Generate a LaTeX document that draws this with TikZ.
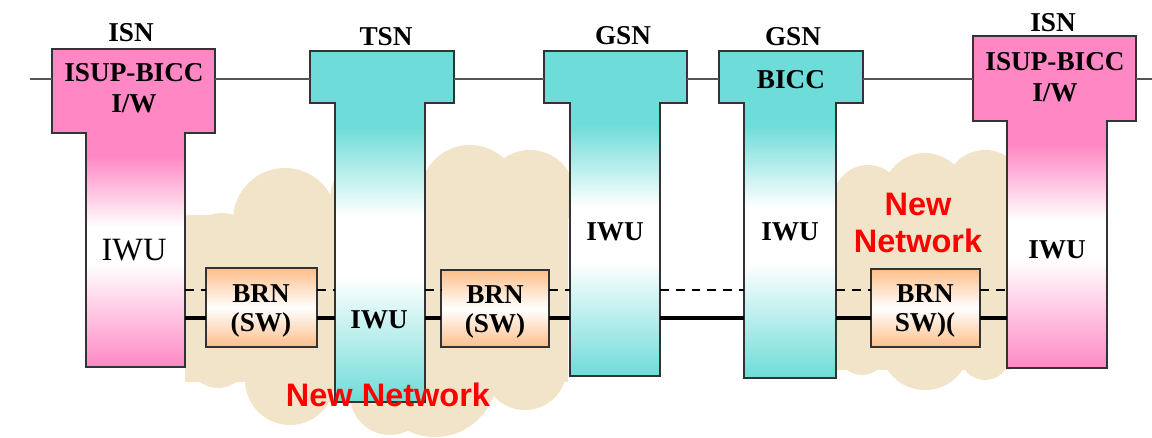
\documentclass[tikz,border=0pt]{standalone}
\usepackage{fontspec}
\setmainfont{Liberation Serif}
\setsansfont{Liberation Sans}
\usetikzlibrary{fit}

\definecolor{headpink}{HTML}{FF88C4}
\definecolor{headteal}{HTML}{6EDCD8}
\definecolor{cloudbeige}{HTML}{F2E4C8}
\definecolor{brnorange}{HTML}{FDBF8A}
\definecolor{netred}{HTML}{FF0000}
\definecolor{edgegray}{HTML}{333333}
\definecolor{linegray}{HTML}{555555}

% stem fills: strong at both ends, white in the middle
\pgfdeclareverticalshading{pinkfade}{100bp}{color(0bp)=(headpink); color(25bp)=(headpink); color(47bp)=(white); color(55bp)=(white); color(70bp)=(headpink); color(100bp)=(headpink)}
\pgfdeclareverticalshading{tealfade}{100bp}{color(0bp)=(headteal); color(25bp)=(headteal); color(46bp)=(white); color(56bp)=(white); color(71bp)=(headteal); color(100bp)=(headteal)}

\newcommand{\boxfont}{\fontsize{15.5}{18}\selectfont\bfseries}
\newcommand{\brnfont}{\fontsize{15.5}{16.5}\selectfont\bfseries}
\newcommand{\iwufont}{\fontsize{18.5}{20}\selectfont}
\newcommand{\netfont}{\fontsize{18.5}{21}\selectfont\sffamily\bfseries}

% T-shaped outline round a head and its stem
\newcommand{\switchoutline}[2]{%
  \draw[boxedge] (#1.south west) -- (#1.north west) -- (#1.north east) -- (#1.south east)
    -- (#2.north east) -- (#2.south east) -- (#2.south west) -- (#2.north west) -- cycle;}

\begin{document}
\begin{tikzpicture}[x=0.02cm, y=-0.02cm,
    boxedge/.style={draw=edgegray, line width=1pt},
    part/.style={inner sep=0pt, outer sep=0pt},
    pinkhead/.style={part, fill=headpink},
    tealhead/.style={part, fill=headteal},
    pinkstem/.style={part, shading=pinkfade},
    tealstem/.style={part, shading=tealfade},
    brnbox/.style={part, boxedge, top color=brnorange, bottom color=brnorange, middle color=white},
    boxtext/.style={align=center, font=\boxfont},
    brntext/.style={align=center, font=\brnfont},
    cloud/.style={fill=cloudbeige},
    sigline/.style={draw=linegray, line width=1.2pt},
    bearer/.style={draw=black, line width=2.8pt},
    tracer/.style={draw=black, line width=0.6pt, dash pattern=on 5pt off 4pt},
    netlabel/.style={text=netred, font=\netfont, align=center}]

    \useasboundingbox (0,0) rectangle (1152,437);

    % Cloud under TSN
    \fill[cloud] (185,215) rectangle (568,382);
    \fill[cloud] (222,245) circle[radius=32];
    \fill[cloud] (285,220) circle[radius=52];
    \fill[cloud] (380,200) circle[radius=50];
    \fill[cloud] (470,195) circle[radius=50];
    \fill[cloud] (530,195) circle[radius=45];
    \fill[cloud] (218,358) circle[radius=30];
    \fill[cloud] (290,380) circle[radius=45];
    \fill[cloud] (390,395) circle[radius=40];
    \fill[cloud] (435,375) circle[radius=62];
    \fill[cloud] (525,368) circle[radius=42];
    % Cloud right of GSN
    \fill[cloud] (830,190) rectangle (1010,370);
    \fill[cloud] (868,200) circle[radius=35];
    \fill[cloud] (925,195) circle[radius=42];
    \fill[cloud] (985,190) circle[radius=40];
    \fill[cloud] (862,350) circle[radius=25];
    \fill[cloud] (925,345) circle[radius=45];
    \fill[cloud] (985,355) circle[radius=25];

    % Switches: stem first, then head
    \node[pinkstem, fit={(86,133) (185,367)}] (isnAs) {};
    \node[pinkhead, fit={(52,49) (215,133)}] (isnAh) {};
    \node[tealstem, fit={(335,103) (425,402)}] (tsnS) {};
    \node[tealhead, fit={(310,51) (454,103)}] (tsnH) {};
    \node[tealstem, fit={(570,103) (660,376)}] (gsnAs) {};
    \node[tealhead, fit={(544,51) (687,103)}] (gsnAh) {};
    \node[tealstem, fit={(744,103) (836,378)}] (gsnBs) {};
    \node[tealhead, fit={(719,51) (863,103)}] (gsnBh) {};
    \node[pinkstem, fit={(1007,121) (1107,368)}] (isnBs) {};
    \node[pinkhead, fit={(973,36) (1136,121)}] (isnBh) {};
    \switchoutline{isnAh}{isnAs}
    \switchoutline{tsnH}{tsnS}
    \switchoutline{gsnAh}{gsnAs}
    \switchoutline{gsnBh}{gsnBs}
    \switchoutline{isnBh}{isnBs}

    % Switch names and head texts
    \node[boxtext] (isnAname) at (131,33) {ISN};
    \node[boxtext] (tsnName) at (386,37) {TSN};
    \node[boxtext] (gsnAname) at (623,36) {GSN};
    \node[boxtext] (gsnBname) at (793,37) {GSN};
    \node[boxtext] (isnBname) at (1053,23) {ISN};
    \node[boxtext] (isnAtext) at (134,88) {ISUP-BICC\\I/W};
    \node[boxtext] (gsnBtext) at (791,80) {BICC};
    \node[boxtext] (isnBtext) at (1055,77) {ISUP-BICC\\I/W};

    % IWU texts
    \node[font=\iwufont] (iwuA) at (134,250) {IWU};
    \node[boxtext] (iwuB) at (379,320) {IWU};
    \node[boxtext] (iwuC) at (615,232) {IWU};
    \node[boxtext] (iwuD) at (790,232) {IWU};
    \node[boxtext] (iwuE) at (1057,250) {IWU};

    % Bearer relay nodes
    \node[brnbox, fit={(206,268) (317,347)}] (brnA) {};
    \node[brnbox, fit={(441,270) (549,347)}] (brnB) {};
    \node[brnbox, fit={(871,269) (980,347)}] (brnC) {};
    \node[brntext] (brnAtext) at (261,311) {BRN\\(SW)};
    \node[brntext] (brnBtext) at (495,312) {BRN\\(SW)};
    \node[brntext] (brnCtext) at (925,311) {BRN\\SW)(};

    % Signalling line
    \coordinate (sigL) at (30,79);
    \coordinate (sigR) at (1152,79);
    \draw[sigline] (sigL) -- (isnAh.west |- sigL)
        (isnAh.east |- sigL) -- (tsnH.west |- sigL)
        (tsnH.east |- sigL) -- (gsnAh.west |- sigL)
        (gsnAh.east |- sigL) -- (gsnBh.west |- sigL)
        (gsnBh.east |- sigL) -- (isnBh.west |- sigL)
        (isnBh.east |- sigL) -- (sigR);

    % Bearer and dashed lines
    \coordinate (bear) at (0,318);
    \coordinate (dash) at (0,290);
    \draw[bearer] (isnAs.east |- bear) -- (brnA.west |- bear)
        (brnA.east |- bear) -- (tsnS.west |- bear)
        (tsnS.east |- bear) -- (brnB.west |- bear)
        (brnB.east |- bear) -- (gsnAs.west |- bear)
        (gsnAs.east |- bear) -- (gsnBs.west |- bear)
        (gsnBs.east |- bear) -- (brnC.west |- bear)
        (brnC.east |- bear) -- (isnBs.west |- bear);
    \draw[tracer] (isnAs.east |- dash) -- (brnA.west |- dash)
        (brnA.east |- dash) -- (tsnS.west |- dash)
        (tsnS.east |- dash) -- (brnB.west |- dash)
        (brnB.east |- dash) -- (gsnAs.west |- dash)
        (gsnAs.east |- dash) -- (gsnBs.west |- dash)
        (gsnBs.east |- dash) -- (brnC.west |- dash)
        (brnC.east |- dash) -- (isnBs.west |- dash);

    % Network names
    \node[netlabel] (netA) at (388,395) {New Network};
    \node[netlabel] (netB) at (918,223) {New\\Network};

\end{tikzpicture}
\end{document}
